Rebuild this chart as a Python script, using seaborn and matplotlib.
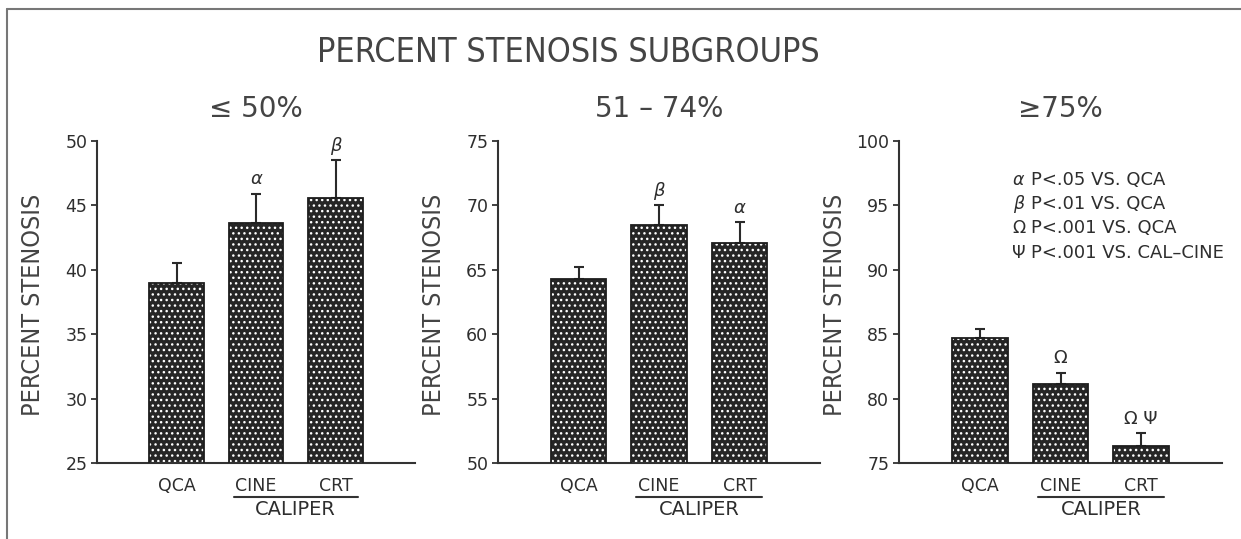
import numpy as np
import pandas as pd
import matplotlib
matplotlib.use("Agg")
import matplotlib.pyplot as plt
from matplotlib.patches import Rectangle
from matplotlib.lines import Line2D
import matplotlib.transforms as mtransforms
from matplotlib import font_manager
import seaborn as sns

# ---------------- data ----------------
categories = ["QCA", "CINE", "CRT"]

lt50_mean = [39.0, 43.6, 45.6]
lt50_sem = [1.5, 2.3, 2.9]
lt50_marks = ["", "α", "β"]

mid_mean = [64.3, 68.5, 67.1]
mid_sem = [0.9, 1.5, 1.6]
mid_marks = ["", "β", "α"]

gt75_mean = [84.7, 81.1, 76.3]
gt75_sem = [0.7, 0.9, 1.0]
gt75_marks = ["", "Ω", "Ω Ψ"]

panel_titles = ["≤ 50%", "51 – 74%", "≥75%"]
y_ranges = [(25, 50), (50, 75), (75, 100)]

legend_symbols = ["α", "β", "Ω", "Ψ"]
legend_texts = ["P<.05 VS. QCA", "P<.01 VS. QCA", "P<.001 VS. QCA", "P<.001 VS. CAL–CINE"]

main_title = "PERCENT STENOSIS SUBGROUPS"
y_label = "PERCENT STENOSIS"
group_label = "CALIPER"

# ---------------- style ----------------
sns.set_style("ticks")
plt.rcParams["font.family"] = ["DejaVu Sans"]
plt.rcParams["hatch.linewidth"] = 1.0

# look for a condensed face among installed fonts
cond_path = None
for f in font_manager.fontManager.ttflist:
    if f.stretch in ("condensed", "semi-condensed", 400, 300) or "Condensed" in f.name or "Narrow" in f.name:
        if f.weight in ("normal", "regular", 400, "book") and f.style == "normal":
            cond_path = f
            break
if cond_path is not None:
    NARROW_KW = dict(family=[cond_path.name, "DejaVu Sans"], stretch=cond_path.stretch)
    narrow_found = True
else:
    NARROW_KW = dict(family=["DejaVu Sans"])
    narrow_found = False

INK = "#2e2e2e"
BAR = "#262626"

fig = plt.figure(figsize=(12.41, 5.39), dpi=100)
W, H = 1241, 539

axes_px = [(97, 415), (498, 820), (899, 1222)]
top_px, bot_px = 141, 463

panels = [
    (lt50_mean, lt50_sem, lt50_marks),
    (mid_mean, mid_sem, mid_marks),
    (gt75_mean, gt75_sem, gt75_marks),
]

ylab_size = 18 if narrow_found else 16
title_size = 24.5 if narrow_found else 22

for i, ((l, r), (means, sems, marks)) in enumerate(zip(axes_px, panels)):
    ax = fig.add_axes([l / W, (H - bot_px) / H, (r - l) / W, (bot_px - top_px) / H])
    df = pd.DataFrame({"method": categories, "value": means})
    sns.barplot(data=df, x="method", y="value", ax=ax, color=BAR, width=0.69,
                errorbar=None, edgecolor="white", hatch="...", linewidth=0,
                saturation=1)
    ax.set_ylim(*y_ranges[i])
    ax.set_xlim(-1.0, 3.0)

    bars = list(ax.patches)
    xs = [p.get_x() + p.get_width() / 2 for p in bars]
    for p in bars:
        ax.add_patch(Rectangle(p.get_xy(), p.get_width(), p.get_height(),
                               fill=False, edgecolor="#1e1e1e", linewidth=1.3, zorder=3))

    ax.errorbar(xs, means, yerr=[np.zeros(len(means)), sems], fmt="none",
                ecolor="#2a2a2a", elinewidth=1.5, capsize=3.5, capthick=1.5, zorder=2)

    for x, m, s, mk in zip(xs, means, sems, marks):
        if mk:
            ax.annotate(mk, (x, m + s), xytext=(0, 4), textcoords="offset points",
                        ha="center", va="bottom", fontsize=13, color=INK,
                        fontstyle="italic" if mk in ("α", "β") else "normal")

    sns.despine(ax=ax)
    for s in ("left", "bottom"):
        ax.spines[s].set_color("#333333")
        ax.spines[s].set_linewidth(1.5)
    ax.set_yticks(np.arange(y_ranges[i][0], y_ranges[i][1] + 1, 5))
    ax.tick_params(axis="y", direction="out", length=4, width=1.3, color="#333333",
                   labelsize=12.5, labelcolor=INK, pad=3)
    ax.tick_params(axis="x", length=0, labelsize=12.5, labelcolor=INK, pad=10)
    ax.set_xlabel("")
    ax.set_ylabel(y_label, fontsize=ylab_size, color="#444444", **NARROW_KW)
    ax.yaxis.set_label_coords(-52 / (r - l), 0.49)

    ax.text(0.5, 1.10, panel_titles[i], transform=ax.transAxes, ha="center",
            va="center", fontsize=20, color="#444444")

    # CALIPER group bracket
    trans = mtransforms.blended_transform_factory(ax.transData, ax.transAxes)
    x0 = xs[1] - 0.28
    x1 = xs[2] + 0.28
    ax.add_line(Line2D([x0, x1], [-0.106, -0.106], transform=trans, color="#333333",
                       linewidth=1.5, clip_on=False))
    ax.text((xs[1] + xs[2]) / 2, -0.145, group_label, transform=trans, ha="center",
            va="center", fontsize=14, color=INK)

    if i == 2:
        ys = [0.879, 0.804, 0.729, 0.652]
        for sym, txt, yy in zip(legend_symbols, legend_texts, ys):
            ax.text(0.37, yy, sym, transform=ax.transAxes, ha="center", va="center",
                    fontsize=12.5, color=INK,
                    fontstyle="italic" if sym in ("α", "β") else "normal")
            ax.text(0.41, yy, txt, transform=ax.transAxes, ha="left", va="center",
                    fontsize=13, color=INK)

fig.text(568 / W, 1 - 53 / H, main_title, ha="center", va="center", fontsize=title_size,
         color="#444444", **NARROW_KW)

# figure frame (top and left rules)
fig.add_artist(Line2D([7 / W, 7 / W], [0, 1 - 9 / H], transform=fig.transFigure,
                      color="#777777", linewidth=1.5))
fig.add_artist(Line2D([7 / W, 1], [1 - 9 / H, 1 - 9 / H], transform=fig.transFigure,
                      color="#777777", linewidth=1.5))

fig.savefig("out.png", dpi=100)
